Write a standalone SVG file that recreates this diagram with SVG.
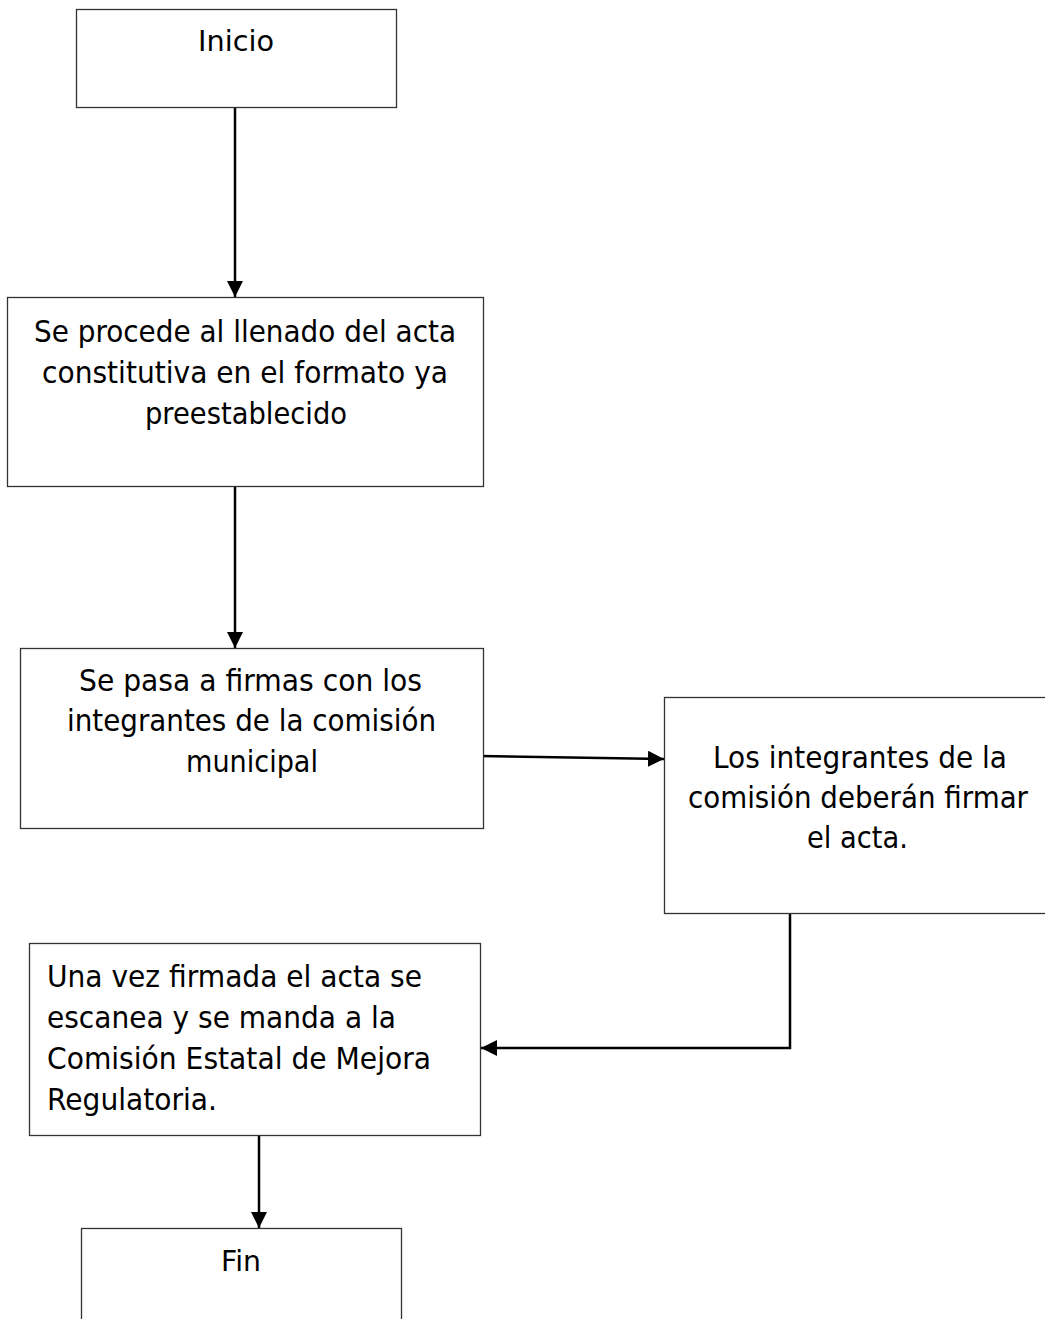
<svg xmlns="http://www.w3.org/2000/svg" width="1045" height="1319" viewBox="0 0 1045 1319">
<style>
.box{fill:#fff;stroke:#333;stroke-width:1.3}
.t{font-family:"DejaVu Sans",Verdana,sans-serif;font-size:31px;fill:#000}
.s{font-size:29px}
.c{text-anchor:middle}
.conn{fill:none;stroke:#000;stroke-width:2.5}
</style>
<defs>
<marker id="ah" markerUnits="userSpaceOnUse" markerWidth="16" markerHeight="16" viewBox="0 0 16 16" refX="16" refY="8" orient="auto">
<path d="M0,0 L16,8 L0,16 Z" fill="#000"/>
</marker>
</defs>
<rect width="1045" height="1319" fill="#fff"/>
<g id="connectors">
<line class="conn" x1="235" y1="107" x2="235" y2="297" marker-end="url(#ah)"/>
<line class="conn" x1="235" y1="486" x2="235" y2="648" marker-end="url(#ah)"/>
<line class="conn" x1="480" y1="756" x2="664" y2="759" marker-end="url(#ah)"/>
<polyline class="conn" points="790,913 790,1048 481,1048" marker-end="url(#ah)"/>
<line class="conn" x1="259" y1="1135" x2="259" y2="1228" marker-end="url(#ah)"/>
</g>
<g id="inicio">
<rect class="box" x="76.5" y="9.5" width="320" height="98"/>
<text class="t s c" x="236" y="51" textLength="76" lengthAdjust="spacingAndGlyphs">Inicio</text>
</g>
<g id="llenado">
<rect class="box" x="7.5" y="297.5" width="476" height="189"/>
<text class="t c" x="245" y="342" textLength="422" lengthAdjust="spacingAndGlyphs">Se procede al llenado del acta</text>
<text class="t c" x="245" y="383" textLength="406" lengthAdjust="spacingAndGlyphs">constitutiva en el formato ya</text>
<text class="t c" x="246" y="424" textLength="202" lengthAdjust="spacingAndGlyphs">preestablecido</text>
</g>
<g id="firmas">
<rect class="box" x="20.5" y="648.5" width="463" height="180"/>
<text class="t c" x="250.5" y="691" textLength="343" lengthAdjust="spacingAndGlyphs">Se pasa a firmas con los</text>
<text class="t c" x="251.5" y="731" textLength="369" lengthAdjust="spacingAndGlyphs">integrantes de la comisión</text>
<text class="t c" x="252" y="772" textLength="132" lengthAdjust="spacingAndGlyphs">municipal</text>
</g>
<g id="integrantes">
<rect class="box" x="664.5" y="697.5" width="400" height="216"/>
<text class="t c" x="860" y="768" textLength="294" lengthAdjust="spacingAndGlyphs">Los integrantes de la</text>
<text class="t c" x="858" y="808" textLength="340" lengthAdjust="spacingAndGlyphs">comisión deberán firmar</text>
<text class="t c" x="857.5" y="848" textLength="101" lengthAdjust="spacingAndGlyphs">el acta.</text>
</g>
<g id="escanea">
<rect class="box" x="29.5" y="943.5" width="451" height="192"/>
<text class="t" x="47" y="987" textLength="375" lengthAdjust="spacingAndGlyphs">Una vez firmada el acta se</text>
<text class="t" x="47" y="1028" textLength="349" lengthAdjust="spacingAndGlyphs">escanea y se manda a la</text>
<text class="t" x="47" y="1069" textLength="384" lengthAdjust="spacingAndGlyphs">Comisión Estatal de Mejora</text>
<text class="t" x="47" y="1110" textLength="170" lengthAdjust="spacingAndGlyphs">Regulatoria.</text>
</g>
<g id="fin">
<rect class="box" x="81.5" y="1228.5" width="320" height="100"/>
<text class="t s c" x="241" y="1271" textLength="40" lengthAdjust="spacingAndGlyphs">Fin</text>
</g>
</svg>
